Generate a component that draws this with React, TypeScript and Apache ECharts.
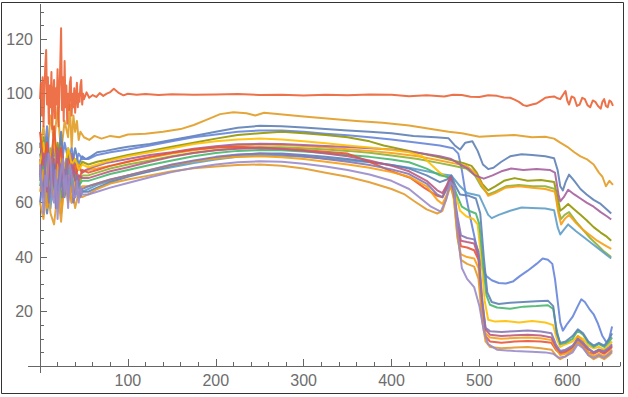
import React, { useEffect, useRef } from "react";
import * as echarts from "echarts";

type Pt = [number, number];

const X_MAJOR_TICKS = [100, 200, 300, 400, 500, 600];
const Y_MAJOR_TICKS = [20, 40, 60, 80, 100, 120];

const redTop: Pt[] = [[0,98],[1,104],[2,92],[3,106],[4,88],[5,101],[6,110],[7,116],[8,96],[9,106],[10,89],[11,103],[12,95],[13,108],[14,87],[15,99],[16,105],[17,91],[18,102],[19,96],[20,109],[21,88],[22,100],[23,110],[24,124],[25,94],[26,106],[27,90],[28,112],[29,95],[30,103],[31,89],[32,100],[33,94],[34,104],[35,106],[36,92],[37,100],[38,95],[39,102],[40,93],[41,99],[42,104],[43,95],[44,100],[45,97],[46,103],[47,105],[48,96],[49,100],[50,98],[53,100.5],[56,98.5],[60,99.5],[64,98.8],[68,100.2],[72,99.2],[76,100],[80,100.6],[84,101.8],[87,101],[90,100.2],[95,99.4],[100,100],[110,99.6],[120,99.9],[135,99.5],[150,99.8],[175,99.6],[200,99.7],[225,99.9],[250,99.5],[275,99.6],[300,99.3],[325,99.6],[350,99.4],[375,99.7],[400,99.6],[420,99.1],[440,99.4],[460,99],[470,99.6],[480,99.5],[490,98.9],[500,98.8],[510,99.4],[520,99.2],[528,98.6],[535,98.5],[540,97.8],[545,97],[550,95.8],[554,95.5],[560,96],[565,96.4],[568,97],[572,97.8],[575,98.5],[580,98.8],[585,99],[589,98.3],[592,98],[595,99.5],[598,101],[600,97.5],[602,96],[605,99],[608,98.5],[611,95.5],[614,96],[617,98.5],[620,98],[623,95.8],[626,95],[629,97.5],[632,97],[635,95.5],[638,94.5],[640,97],[642,98],[644,95.5],[646,95],[648,97.5],[650,97],[652,95.5]];

const orangeUpper: Pt[] = [[0,80],[4,88],[8,76],[12,92],[16,82],[20,95],[24,78],[28,90],[32,84],[34,96],[36,80],[38,92],[40,86],[42,90],[44,83],[46,86],[50,84],[56,83],[62,84.5],[70,83.5],[80,84.5],[90,84],[100,85],[120,85.3],[140,86],[160,87],[175,88.5],[190,90.5],[205,92.5],[220,93.2],[235,92.8],[245,92],[255,93],[270,92.5],[300,91.6],[330,90.8],[360,90],[390,89.3],[420,88.3],[445,87],[465,86],[480,85.5],[500,84.2],[520,84.6],[540,84.8],[560,84],[575,84.2],[585,83.5],[592,82],[600,80.5],[608,78.5],[615,77],[622,76],[630,74],[636,71],[640,69.5],[644,66],[648,68],[652,66.5]];

const blueUpper: Pt[] = [[0,78],[4,70],[8,84],[12,66],[16,80],[20,72],[24,86],[28,68],[32,78],[36,72],[40,80],[44,74],[48,77],[52,76],[58,77],[65,78.5],[75,79],[90,80],[100,80.5],[125,81.5],[150,83],[175,84.5],[200,86],[225,87.5],[250,88.2],[275,88],[300,87.6],[325,87],[350,86.5],[375,86],[400,85.5],[425,84.5],[450,84],[465,83.6],[472,81],[478,79.5],[484,82],[492,82.5],[498,79],[504,74],[510,72.3],[516,72.8],[525,75],[535,77],[548,77.8],[560,77.5],[575,77],[585,76.3],[589,72],[592,66],[595,64.5],[598,67.5],[602,70.3],[608,68],[615,65],[622,63],[630,61],[638,59.5],[645,57.5],[650,56]];

const blueDrop: Pt[] = [[0,82],[4,74],[8,88],[12,70],[16,84],[20,76],[24,72],[28,82],[32,76],[36,80],[40,74],[44,78],[48,76],[55,76],[65,77.5],[80,78.5],[100,79.5],[125,81],[150,82.5],[175,84],[200,85],[225,86],[250,86.5],[275,86.5],[300,86],[325,85.3],[350,84.7],[375,84],[400,83.2],[430,82],[455,81],[470,80],[476,78],[480,72],[485,62],[490,54],[496,45],[502,37],[508,33],[514,31.5],[522,30.5],[530,30.3],[538,31],[546,33],[555,35],[565,37.5],[572,39.5],[578,39],[583,37.5],[586,32],[589,24],[592,16],[595,13],[600,15.5],[606,18],[612,22],[616,24.5],[620,23.5],[625,21],[630,19],[635,15.5],[640,11],[645,8.5],[648,10.5],[651,14.5]];

const magentaUpper: Pt[] = [[0,76],[4,66],[8,82],[12,70],[16,76],[20,64],[24,80],[28,72],[32,70],[36,78],[40,70],[44,73],[48,71],[52,72],[60,73],[75,74.5],[100,76],[125,77.5],[150,78.5],[175,79.8],[200,80.7],[225,81.4],[250,81.6],[275,81.5],[300,81.2],[325,80.8],[350,80.4],[375,80],[400,79.5],[430,78.3],[455,77],[468,76],[478,74],[487,72.5],[495,70],[505,68.8],[515,70],[525,71.5],[536,72.5],[550,72],[565,72.3],[580,72],[586,71],[590,63],[592,60.5],[596,62],[601,64.7],[608,63],[615,61.5],[622,60],[630,58.5],[638,56.5],[645,55],[650,53.8]];

const oliveUpper: Pt[] = [[0,72],[4,84],[8,70],[12,78],[16,68],[20,82],[24,74],[28,70],[32,80],[36,74],[40,76],[44,72],[48,75],[55,74],[65,75],[80,76],[100,77.5],[125,79],[150,80.5],[175,82],[200,83.5],[225,84.8],[250,85.5],[275,86],[300,85.5],[325,84.8],[350,84],[375,82.5],[391,81],[420,79],[449,77],[470,75.5],[482,74.5],[491,73.5],[497,71],[503,67],[510,64.5],[518,66],[528,68],[540,69],[555,68],[570,68.3],[585,67.6],[589,62],[592,57],[596,58],[601,59.5],[608,57.5],[615,55.5],[622,53.5],[630,51],[638,49],[645,47.5],[650,46]];

const greenUpper: Pt[] = [[0,68],[4,76],[8,62],[12,80],[16,70],[20,66],[24,78],[28,64],[32,74],[36,68],[40,72],[44,66],[48,70],[55,70],[65,71],[80,72.5],[100,74],[125,75.5],[150,77],[175,78.3],[200,79.3],[225,80],[250,80.3],[275,80.3],[300,80],[325,79.5],[350,79],[375,78.3],[400,77.3],[430,76],[455,74.5],[470,73.5],[485,72.5],[495,70],[502,66],[510,63],[518,64],[530,66],[545,66.5],[560,66],[575,66],[586,65],[590,57],[593,54],[597,55.5],[602,56.5],[610,53],[618,50],[626,47],[634,44.5],[642,42],[650,40]];

const amberUpper: Pt[] = [[0,74],[4,66],[8,78],[12,70],[16,62],[20,76],[24,70],[28,74],[32,66],[36,72],[40,70],[44,74],[48,71],[55,72],[65,72.5],[80,73.5],[100,75],[125,76.5],[150,78],[175,79.2],[200,80.2],[225,81],[250,81.3],[275,81.2],[300,80.8],[325,80.2],[350,79.6],[375,79],[400,78.2],[430,77],[455,75.5],[470,74.5],[485,73.5],[495,71],[502,67],[510,62.5],[518,63.5],[530,65.5],[545,66],[560,65.5],[575,65],[586,64],[590,56],[593,52],[597,54],[602,55.5],[610,52.5],[618,50],[626,48],[634,46],[642,44.5],[650,43]];

const skyUpper: Pt[] = [[0,70],[4,62],[8,74],[12,58],[16,72],[20,66],[24,60],[28,70],[32,64],[36,68],[40,62],[44,66],[48,64],[55,65],[65,66.5],[80,68],[100,70],[125,71.5],[150,73],[175,74.5],[200,75.8],[225,76.8],[250,77.3],[275,77.2],[300,76.8],[325,76.2],[350,75.6],[375,74.8],[400,73.8],[420,72.8],[440,71.5],[455,70.5],[468,70],[478,66],[486,63.5],[494,63],[500,62.5],[505,59],[510,55.5],[514,54.3],[522,55.5],[535,57],[548,58.2],[560,58],[575,57.8],[585,57.2],[589,51],[592,48.3],[596,50],[601,52],[610,49.5],[620,47],[628,45],[636,43],[644,41],[650,39.5]];

const yellowLow: Pt[] = [[0,74],[4,82],[8,68],[12,76],[16,84],[20,70],[24,78],[28,72],[32,80],[36,74],[40,76],[44,72],[48,74],[55,73],[65,74],[80,75.5],[100,77],[125,78.5],[150,80],[175,81.5],[200,82.5],[225,83.2],[250,83.5],[275,83.2],[300,82.5],[325,81.8],[350,81],[375,80.2],[400,79.3],[420,78.5],[435,77],[445,74],[455,71],[462,69.5],[467,69],[472,64],[478,57],[485,55],[493,54],[498,52],[502,40],[506,24],[510,17],[518,16.3],[530,16.5],[545,16],[560,16.5],[575,16],[584,15],[588,10],[592,7],[598,8],[606,9],[612,11],[618,10],[624,7.5],[630,6.5],[636,7],[642,6],[648,8],[651,9]];

const tealLow: Pt[] = [[0,66],[4,74],[8,60],[12,70],[16,64],[20,76],[24,62],[28,68],[32,72],[36,64],[40,70],[44,66],[48,68],[55,68],[65,69],[80,70.5],[100,72],[125,73.8],[150,75.5],[175,77],[200,78.2],[225,79],[250,79.3],[275,79.2],[300,78.8],[325,78.2],[350,77.5],[375,76.8],[400,75.8],[420,74.8],[440,72.5],[455,70],[463,69.5],[468,69],[474,63],[480,58.5],[488,57],[496,56],[500,52],[504,38],[508,26],[512,22.5],[520,21.5],[535,21],[550,21.8],[565,22],[578,22.3],[584,21],[588,13],[592,8],[598,8.5],[606,10],[612,13],[618,11.5],[624,8.5],[630,7],[636,8],[642,7],[648,9],[651,10.5]];

const blueLow: Pt[] = [[0,60],[4,70],[8,56],[12,66],[16,74],[20,58],[24,68],[28,62],[32,70],[36,60],[40,66],[44,62],[48,64],[55,64],[65,65.5],[80,67.5],[100,69.5],[125,71.5],[150,73.5],[175,75.2],[200,76.5],[225,77.5],[250,78],[275,78],[300,77.5],[325,76.8],[350,76],[375,75],[400,73.8],[420,72.5],[440,70],[455,67.5],[463,68.5],[468,70],[473,66],[478,63],[488,62.5],[496,61.5],[501,56],[505,40],[509,27],[514,23.5],[522,22.8],[535,23.2],[550,23.5],[565,23.8],[578,24],[584,22],[588,12],[592,8.5],[598,9],[606,11],[612,13.5],[618,12],[624,9],[630,7.5],[636,8.5],[642,7.5],[648,10],[651,12]];

const purpleLow: Pt[] = [[0,72],[2,64],[4,62],[6,76],[8,78],[10,60],[12,66],[14,74],[16,70],[18,58],[20,60],[22,72],[24,74],[26,62],[28,66],[30,76],[32,62],[34,68],[36,72],[38,60],[40,64],[42,70],[44,68],[46,62],[48,65],[55,66],[65,67],[80,68.5],[100,70],[125,72],[150,74],[175,75.5],[200,76.8],[225,77.7],[250,78],[275,77.7],[300,77],[325,76],[350,75],[375,73.8],[400,72.2],[420,70.5],[440,67],[452,63],[458,62],[463,65],[467,68],[471,64],[475,55],[479,48],[486,47],[494,46.5],[499,42],[503,25],[507,14],[512,12.8],[525,12.5],[540,12.8],[555,13],[570,12.7],[582,12],[587,8],[592,5.5],[598,6],[606,7.5],[612,10],[618,8.5],[624,6.5],[630,5],[636,6],[642,5.5],[648,7],[651,8]];

const redLow: Pt[] = [[0,86],[4,74],[8,82],[12,70],[16,88],[20,72],[24,80],[28,68],[32,76],[36,70],[40,74],[44,68],[48,72],[55,71],[65,72],[80,73.5],[100,75],[125,76.8],[150,78.3],[175,79.5],[200,80.2],[225,80.5],[250,80.2],[275,79.8],[300,79.3],[350,78],[375,75],[400,71.5],[422,69],[437,65.5],[452,62.5],[458,62],[463,66],[467,69],[471,63],[475,50],[479,44],[486,43.5],[494,42.5],[499,39],[503,22],[507,11],[512,9],[525,8.5],[540,9],[555,9.2],[570,9],[582,8.5],[587,6],[592,4.5],[598,5],[606,6.5],[612,9],[618,7],[624,5],[630,4.5],[636,5.5],[642,4.5],[648,6],[651,7]];

const orangeLow: Pt[] = [[0,64],[4,72],[8,58],[12,68],[16,62],[20,74],[24,56],[28,66],[32,70],[36,60],[40,68],[44,62],[48,66],[55,66],[65,67],[80,68.5],[100,70],[125,72],[150,73.8],[175,75.2],[200,76.2],[225,76.8],[250,77],[275,76.7],[300,76],[325,75],[350,74],[375,72.8],[400,71.2],[420,69.5],[440,66],[452,61],[458,59.5],[463,63],[467,67],[471,61],[475,47],[479,41],[486,40],[494,39.5],[499,36],[503,20],[507,12],[512,10.5],[525,10],[540,10.3],[555,10.5],[570,10.2],[582,9.5],[587,6.5],[592,4],[598,4.5],[606,6],[612,11],[618,9],[624,5],[630,3.5],[636,4.5],[642,3.5],[648,5],[651,6]];

const magentaLow: Pt[] = [[0,70],[4,78],[8,64],[12,74],[16,66],[20,80],[24,68],[28,72],[32,66],[36,74],[40,68],[44,70],[48,69],[55,69],[65,70],[80,71.5],[100,73],[125,75],[150,76.8],[175,78.2],[200,79.2],[225,79.8],[250,80],[275,79.7],[300,79],[325,78],[350,77],[375,75.5],[400,73.5],[420,71.5],[440,68],[452,64.5],[458,63.5],[463,66.5],[467,69.5],[471,65],[475,52],[479,46],[486,45.5],[494,45],[499,40],[503,24],[507,13.5],[512,11.5],[525,11],[540,11.3],[555,11.5],[570,11.2],[582,10.5],[587,7],[592,5],[598,5.5],[606,7],[612,10],[618,8],[624,6],[630,5],[636,6],[642,5],[648,6.5],[651,7.5]];

const brownLow: Pt[] = [[0,60],[4,54],[8,68],[12,56],[16,52],[20,64],[24,53],[28,70],[32,60],[36,66],[40,58],[44,64],[48,62],[55,63],[65,65],[80,67],[100,68.5],[125,70],[150,71.5],[175,72.6],[200,73.3],[225,73.8],[250,74],[275,73.5],[300,72.5],[325,71],[350,69.5],[375,67.5],[400,65],[415,63],[426,60.5],[440,57.5],[452,56],[458,57],[463,62],[467,66],[471,62],[475,48],[479,39],[486,37.5],[494,36.5],[499,32],[503,17],[507,9],[512,7],[525,6.5],[540,6.8],[555,7],[570,6.5],[582,6],[587,4],[592,2.5],[598,3.5],[606,6],[612,9],[618,7],[624,4],[630,2.5],[636,3.5],[642,2.5],[648,4],[651,5]];

const lavenderLow: Pt[] = [[0,74],[2,66],[4,56],[6,70],[8,66],[10,78],[12,76],[14,62],[16,60],[18,72],[20,54],[22,66],[24,72],[26,76],[28,64],[30,70],[32,58],[34,74],[36,70],[38,62],[40,62],[42,68],[44,60],[46,66],[48,63],[55,63],[65,64],[80,65.5],[100,67.2],[125,69.3],[150,71.2],[175,72.8],[200,74],[225,74.8],[250,75.2],[275,75],[300,74.3],[325,73.3],[350,72],[375,70.3],[400,68],[420,65],[433,61.6],[445,58.5],[456,56.7],[462,61],[467,67.5],[471,66],[475,50],[480,36],[486,32],[494,29],[500,22],[505,13],[510,8],[520,6],[540,5.5],[559,5.2],[575,5],[584,4.5],[590,3],[598,3.5],[606,5],[612,8],[618,6.5],[624,4],[630,3],[636,4],[642,3],[648,4.5],[651,5.5]];

const LINES: { color: string; data: Pt[] }[] = [
  { color: "#E19C24", data: orangeUpper },
  { color: "#5E81B5", data: blueUpper },
  { color: "#6685D9", data: blueDrop },
  { color: "#929600", data: oliveUpper },
  { color: "#8FB032", data: greenUpper },
  { color: "#F89F13", data: amberUpper },
  { color: "#A5609D", data: magentaUpper },
  { color: "#5D9EC7", data: skyUpper },
  { color: "#FFBF00", data: yellowLow },
  { color: "#47B66D", data: tealLow },
  { color: "#5E81B5", data: blueLow },
  { color: "#E95536", data: redLow },
  { color: "#F89F13", data: orangeLow },
  { color: "#E39A2B", data: brownLow },
  { color: "#BC5B80", data: magentaLow },
  { color: "#8778B3", data: purpleLow },
  { color: "#9A8BC9", data: lavenderLow },
  { color: "#EB6235", data: redTop },
];

const AXIS_COLOR = "#666";
const LABEL_COLOR = "#6d6d6d";
const FONT = "'Liberation Sans', Arial, sans-serif";

export default function App() {
  const ref = useRef<HTMLDivElement>(null);
  useEffect(() => {
    document.body.style.margin = "0";
    const chart = echarts.init(ref.current!, null, { renderer: "svg" });
    const gridLeft = 40, gridTop = 12, gridW = 580, gridH = 354;
    const axisY = gridTop + gridH;
    chart.setOption({
      animation: false,
      backgroundColor: "#fff",
      grid: { left: gridLeft, top: gridTop, width: gridW, height: gridH, containLabel: false, outerBoundsMode: "none" },
      xAxis: [
        {
          type: "value", min: 0, max: 660, interval: 20,
          axisLine: { show: true, onZero: false, lineStyle: { color: AXIS_COLOR, width: 1 } },
          axisTick: { show: true, inside: true, length: 4, lineStyle: { color: AXIS_COLOR } },
          axisLabel: {
            show: true, margin: 6, color: LABEL_COLOR, fontSize: 16, fontFamily: FONT,
            formatter: (v: number) => (X_MAJOR_TICKS.includes(v) ? String(v) : ""),
          },
          splitLine: { show: false },
        },
        {
          type: "value", min: 0, max: 660, interval: 100, position: "bottom",
          axisLine: { show: false, onZero: false },
          axisTick: { show: true, inside: true, length: 7, customValues: X_MAJOR_TICKS, lineStyle: { color: AXIS_COLOR } },
          axisLabel: { show: false },
          splitLine: { show: false },
        },
      ],
      yAxis: [
        {
          type: "value", min: 0, max: 130, interval: 5,
          axisLine: { show: true, onZero: false, lineStyle: { color: AXIS_COLOR, width: 1 } },
          axisTick: { show: true, inside: true, length: 4, lineStyle: { color: AXIS_COLOR } },
          axisLabel: {
            show: true, margin: 7, color: LABEL_COLOR, fontSize: 16, fontFamily: FONT,
            formatter: (v: number) => (Y_MAJOR_TICKS.includes(v) ? String(v) : ""),
          },
          splitLine: { show: false },
        },
        {
          type: "value", min: 0, max: 130, interval: 20, position: "left",
          axisLine: { show: false, onZero: false },
          axisTick: { show: true, inside: true, length: 7, customValues: Y_MAJOR_TICKS, lineStyle: { color: AXIS_COLOR } },
          axisLabel: { show: false },
          splitLine: { show: false },
        },
      ],
      graphic: [
        { type: "rect", shape: { x: 1.5, y: 2.5, width: 622, height: 391 }, style: { fill: "none", stroke: "#333", lineWidth: 1 }, silent: true },
        { type: "line", shape: { x1: 28, y1: axisY + 0.5, x2: gridLeft, y2: axisY + 0.5 }, style: { stroke: AXIS_COLOR, lineWidth: 1 }, silent: true },
        { type: "line", shape: { x1: gridLeft + 0.5, y1: axisY, x2: gridLeft + 0.5, y2: axisY + 7 }, style: { stroke: AXIS_COLOR, lineWidth: 1 }, silent: true },
        { type: "line", shape: { x1: gridLeft + 0.5, y1: 4, x2: gridLeft + 0.5, y2: gridTop }, style: { stroke: AXIS_COLOR, lineWidth: 1 }, silent: true },
      ],
      series: LINES.map((l, i) => ({
        type: "line",
        name: "s" + i,
        xAxisIndex: 0,
        yAxisIndex: 0,
        data: l.data,
        showSymbol: false,
        symbol: "none",
        silent: true,
        lineStyle: { color: l.color, width: 2, opacity: 0.9, join: "round" },
        itemStyle: { color: l.color },
        z: 2,
      })),
    });
    return () => chart.dispose();
  }, []);
  return (
    <div
      ref={ref}
      style={{ position: "absolute", left: 0, top: 0, width: 628, height: 397, background: "#fff" }}
    />
  );
}
